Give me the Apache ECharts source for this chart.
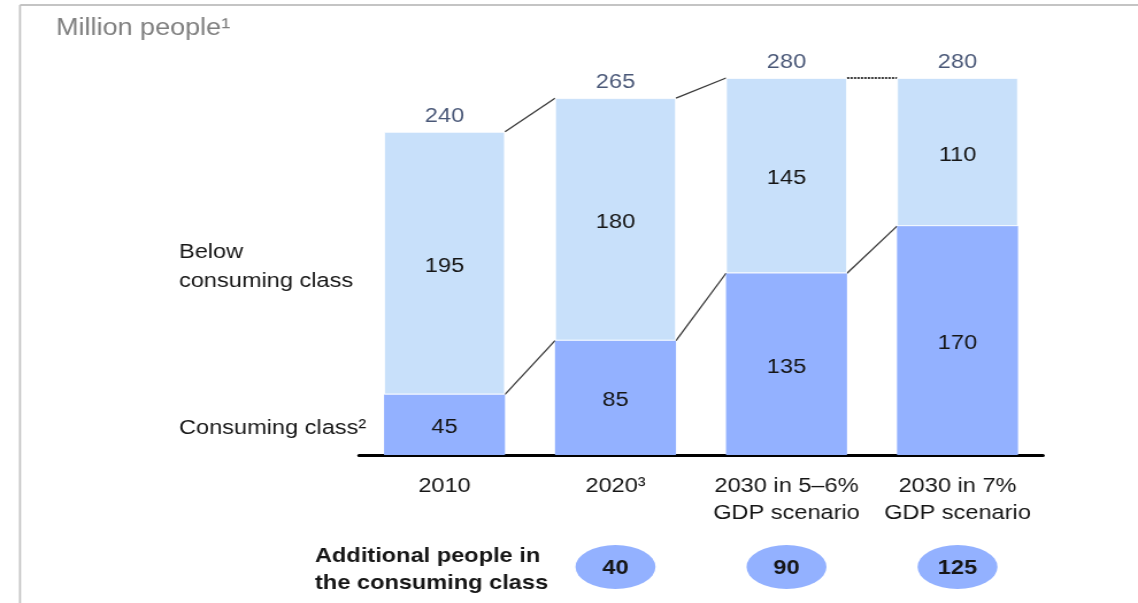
<!DOCTYPE html>
<html>
<head>
<meta charset="utf-8">
<script src="https://cdn.jsdelivr.net/npm/echarts@6/dist/echarts.min.js"></script>
<style>
html,body{margin:0;padding:0;background:#fff;overflow:hidden;}
#chart{position:absolute;left:0;top:0;height:603px;transform-origin:0 0;}
</style>
</head>
<body>
<div id="chart"></div>
<script>
// ---- data ----
const categories = ['2010', '2020³', '2030 in 5–6%\nGDP scenario', '2030 in 7%\nGDP scenario'];
const consuming = [45, 85, 135, 170];
const below = [195, 180, 145, 110];
const totals = [240, 265, 280, 280];
const additional = [null, 40, 90, 125];

// ---- layout (the reference is horizontally stretched) ----
const PAGE_W = 1138;
const W = 990;
const SX = PAGE_W / W;
const el = document.getElementById('chart');
el.style.width = W + 'px';
el.style.transform = 'scaleX(' + SX + ')';

const FONT = '"Liberation Sans", Arial, Helvetica, sans-serif';
const FS = 20.5;
const BAR_W = 121 / SX;
const GRID_LEFT = 359 / SX;
const GRID_RIGHT = W - 1043 / SX;
const DARK = '#93b1ff';
const LIGHT = '#c8e0fa';
const TEXT = '#161616';

const connectorData = [];
for (let i = 0; i < totals.length - 1; i++) {
  connectorData.push([i, totals[i], totals[i + 1]]);
  connectorData.push([i, consuming[i], consuming[i + 1]]);
}
const bubbleData = [];
additional.forEach((v, i) => { if (v != null) bubbleData.push([i, v]); });

const chart = echarts.init(el, null, {renderer: 'canvas'});
chart.setOption({
  animation: false,
  textStyle: {fontFamily: FONT},
  grid: {left: GRID_LEFT, right: GRID_RIGHT, top: 78, bottom: 148, containLabel: false},
  xAxis: {
    type: 'category',
    data: categories,
    axisLine: {lineStyle: {color: '#000', width: 3}},
    axisTick: {show: false},
    axisLabel: {
      margin: 18, fontSize: FS, lineHeight: 27, color: TEXT, fontFamily: FONT,
      interval: 0
    },
    splitLine: {show: false}
  },
  yAxis: {type: 'value', min: 0, max: 280, show: false, splitLine: {show: false}},
  series: [
    {
      name: 'Consuming class', type: 'bar', stack: 'pop', data: consuming,
      barWidth: BAR_W,
      itemStyle: {color: DARK},
      label: {show: true, position: 'inside', offset: [0, 3], fontSize: FS, color: TEXT, fontFamily: FONT}
    },
    {
      name: 'Below consuming class', type: 'bar', stack: 'pop', data: below,
      barWidth: BAR_W,
      itemStyle: {color: LIGHT, borderColor: '#ffffff', borderWidth: 0.8},
      label: {show: true, position: 'inside', offset: [0, 3], fontSize: FS, color: TEXT, fontFamily: FONT}
    },
    {
      name: 'Total', type: 'scatter', data: totals.map((v, i) => [i, v]),
      symbolSize: 0, silent: true,
      label: {show: true, position: 'top', distance: 5, fontSize: FS, color: '#1b2d55', fontFamily: FONT,
        formatter: p => p.value[1]}
    },
    {
      name: 'Connectors', type: 'custom', data: connectorData, silent: true, clip: false,
      encode: {x: 0, y: 1},
      renderItem: function (params, api) {
        const i = api.value(0);
        const p1 = api.coord([i, api.value(1)]);
        const p2 = api.coord([i + 1, api.value(2)]);
        const half = BAR_W / 2;
        const flat = Math.abs(p1[1] - p2[1]) < 0.5;
        return {
          type: 'line',
          shape: {x1: p1[0] + half, y1: p1[1], x2: p2[0] - half, y2: p2[1]},
          style: {stroke: '#3a3a3a', lineWidth: flat ? 2 : 1.3, lineDash: flat ? [2, 1] : null}
        };
      }
    },
    {
      name: 'Additional', type: 'custom', data: bubbleData, silent: true, clip: false,
      encode: {x: 0, y: 1},
      renderItem: function (params, api) {
        const p = api.coord([api.value(0), 0]);
        const rx = 40 / SX, ry = 22;
        return {
          type: 'group',
          x: p[0], y: p[1] + 112,
          children: [
            {type: 'circle', shape: {cx: 0, cy: 0, r: rx}, scaleY: ry / rx, style: {fill: DARK}},
            {type: 'text', style: {text: String(api.value(1)), x: 0, y: 1, align: 'center', verticalAlign: 'middle',
              font: 'bold ' + FS + 'px ' + FONT, fill: TEXT}}
          ]
        };
      }
    }
  ],
  graphic: [
    {type: 'line', shape: {x1: 20 / SX, y1: 5, x2: W, y2: 5}, style: {stroke: '#c4c4c4', lineWidth: 2}, silent: true},
    {type: 'line', shape: {x1: 20 / SX, y1: 5, x2: 20 / SX, y2: 603}, style: {stroke: '#c4c4c4', lineWidth: 1.8}, silent: true},
    {type: 'text', x: 56 / SX, y: 29, style: {text: 'Million people¹', font: '23.5px ' + FONT, fill: '#7f7f7f', verticalAlign: 'middle'}},
    {type: 'text', x: 179 / SX, y: 238, style: {text: 'Below\nconsuming class', font: FS + 'px ' + FONT, lineHeight: 29, fill: TEXT, verticalAlign: 'top'}},
    {type: 'text', x: 179 / SX, y: 428, style: {text: 'Consuming class²', font: FS + 'px ' + FONT, fill: TEXT, verticalAlign: 'middle'}},
    {type: 'text', x: 315 / SX, y: 542.5, style: {text: 'Additional people in\nthe consuming class', font: 'bold ' + FS + 'px ' + FONT, lineHeight: 27, fill: TEXT, verticalAlign: 'top'}}
  ]
});
</script>
</body>
</html>
